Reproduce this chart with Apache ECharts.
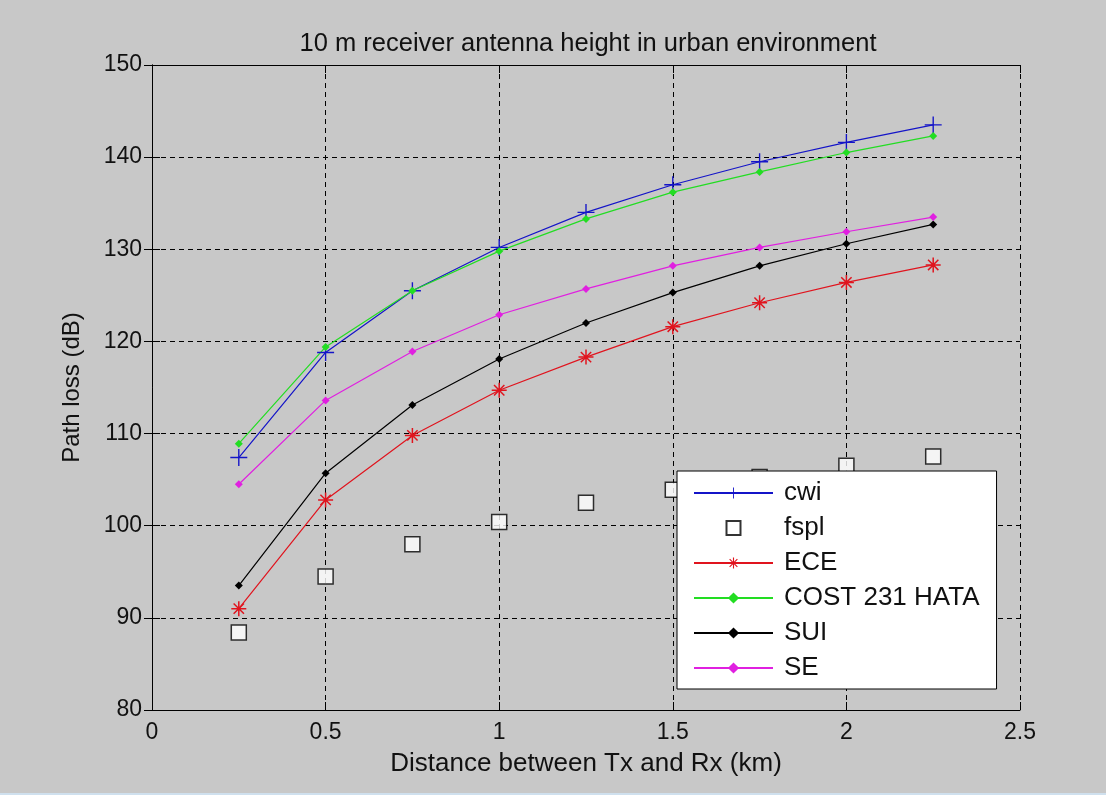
<!DOCTYPE html>
<html>
<head>
<meta charset="utf-8">
<script src="https://cdn.jsdelivr.net/npm/echarts@6/dist/echarts.min.js"></script>
<style>
  html, body { margin: 0; padding: 0; background: #cfe0ee; }
  #chart { width: 1106px; height: 793px; background: #c8c8c8; }
</style>
</head>
<body>
<div id="chart"></div>
<script>
// distance (km)
const distances = [0.25, 0.5, 0.75, 1.0, 1.25, 1.5, 1.75, 2.0, 2.25]
// path loss (dB) per model
const cwi = [107.4, 118.8, 125.5, 130.2, 134.0, 137.0, 139.5, 141.6, 143.5]
const fspl = [88.4, 94.5, 98.0, 100.4, 102.5, 103.9, 105.3, 106.5, 107.5]
const ece = [91.0, 102.8, 109.8, 114.7, 118.3, 121.6, 124.2, 126.4, 128.3]
const cost231 = [108.9, 119.4, 125.5, 129.8, 133.3, 136.2, 138.4, 140.5, 142.3]
const sui = [93.5, 105.7, 113.1, 118.1, 122.0, 125.3, 128.2, 130.6, 132.7]
const se = [104.5, 113.6, 118.9, 122.9, 125.7, 128.2, 130.2, 131.9, 133.5]

const seriesNames = ['cwi', 'fspl', 'ECE', 'COST 231 HATA', 'SUI', 'SE']

const pair = arr => arr.map((v, i) => [distances[i], v])

// marker shapes
const plusPath = 'path://M4.6,0H5.4V4.6H10V5.4H5.4V10H4.6V5.4H0V4.6H4.6Z'
const starPath = 'path://M4.5,0H5.5V10H4.5Z M0,4.5H10V5.5H0Z M1.2,1.9L1.9,1.2L8.8,8.1L8.1,8.8Z M8.1,1.2L8.8,1.9L1.9,8.8L1.2,8.1Z'
const squarePath = 'path://M0,0H10V10H0Z'

const FONT = 'Liberation Sans, Arial, sans-serif'
const gridLine = { show: true, lineStyle: { color: '#000', type: [5, 4], width: 1 } }

function lineSeries (name, data, color, symbol, size) {
  return {
    name: name,
    type: 'line',
    data: pair(data),
    symbol: symbol,
    symbolSize: size,
    showAllSymbol: true,
    itemStyle: { color: color },
    lineStyle: { color: color, width: 1.2 }
  }
}

const chart = echarts.init(document.getElementById('chart'))

const option = {
  animation: false,
  title: {
    text: '10 m receiver antenna height in urban environment',
    left: 583,
    textAlign: 'center',
    top: 26,
    textStyle: { fontFamily: FONT, fontSize: 25.5, fontWeight: 'normal', color: '#111' }
  },
  grid: { left: 152, right: 86, top: 65, bottom: 83 },
  legend: {
    orient: 'vertical',
    left: 677,
    top: 471,
    padding: [9, 17, 8, 16],
    itemGap: 9,
    itemWidth: 79,
    itemHeight: 14,
    backgroundColor: '#fff',
    borderColor: '#000',
    borderWidth: 1,
    borderRadius: 0,
    data: [
      { name: seriesNames[0] },
      { name: seriesNames[1], icon: squarePath },
      { name: seriesNames[2] },
      { name: seriesNames[3] },
      { name: seriesNames[4] },
      { name: seriesNames[5] }
    ],
    textStyle: { fontFamily: FONT, fontSize: 26, color: '#111', lineHeight: 26, padding: [0, 0, 0, 6] }
  },
  xAxis: [
    {
      type: 'value',
      min: 0,
      max: 2.5,
      interval: 0.5,
      name: 'Distance between Tx and Rx (km)',
      nameLocation: 'middle',
      nameGap: 41,
      nameTextStyle: { fontFamily: FONT, fontSize: 26, color: '#111' },
      axisLine: { show: true, onZero: false, lineStyle: { color: '#000', width: 1 } },
      axisTick: { show: true, inside: true, length: 8, lineStyle: { color: '#000' } },
      axisLabel: { fontFamily: FONT, fontSize: 23, color: '#111', margin: 11 },
      splitLine: gridLine
    },
    {
      type: 'value',
      position: 'top',
      min: 0,
      max: 2.5,
      interval: 0.5,
      axisLine: { show: true, lineStyle: { color: '#000', width: 1 } },
      axisTick: { show: true, inside: true, length: 8, lineStyle: { color: '#000' } },
      axisLabel: { show: false },
      splitLine: { show: false }
    }
  ],
  yAxis: [
    {
      type: 'value',
      min: 80,
      max: 150,
      interval: 10,
      name: 'Path loss (dB)',
      nameLocation: 'middle',
      nameGap: 68,
      nameTextStyle: { fontFamily: FONT, fontSize: 24, color: '#111' },
      axisLine: { show: true, onZero: false, lineStyle: { color: '#000', width: 1 } },
      axisTick: { show: true, inside: true, length: 8, lineStyle: { color: '#000' } },
      axisLabel: { fontFamily: FONT, fontSize: 23, color: '#111', margin: 10 },
      splitLine: gridLine
    },
    {
      type: 'value',
      position: 'right',
      min: 80,
      max: 150,
      interval: 10,
      axisLine: { show: true, lineStyle: { color: '#000', width: 1 } },
      axisTick: { show: true, inside: true, length: 8, lineStyle: { color: '#000' } },
      axisLabel: { show: false },
      splitLine: { show: false }
    }
  ],
  series: [
    lineSeries('cwi', cwi, '#1414c8', plusPath, 17),
    {
      name: 'fspl',
      type: 'scatter',
      data: pair(fspl),
      symbol: 'rect',
      symbolSize: 15,
      itemStyle: { color: '#fff', borderColor: '#000', borderWidth: 1.5 }
    },
    lineSeries('ECE', ece, '#e0141e', starPath, 15),
    lineSeries('COST 231 HATA', cost231, '#22dd22', 'diamond', 8),
    lineSeries('SUI', sui, '#000', 'diamond', 8),
    lineSeries('SE', se, '#e020e0', 'diamond', 8)
  ]
}

chart.setOption(option)
</script>
</body>
</html>
